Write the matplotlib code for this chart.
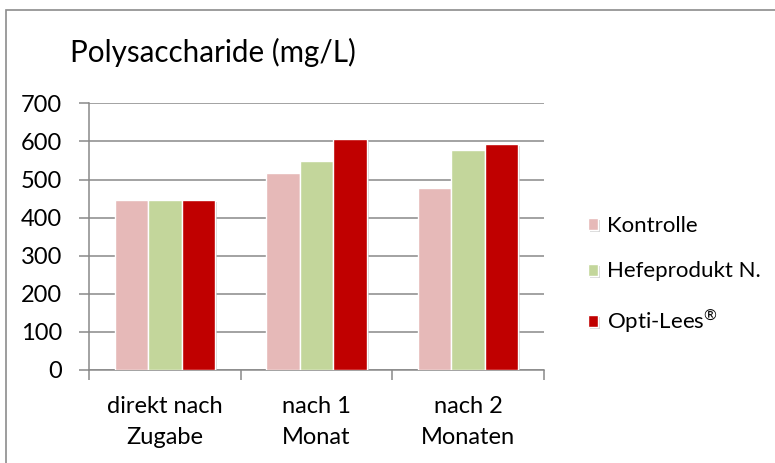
import matplotlib.pyplot as plt
import matplotlib.patheffects as pe
from matplotlib.patches import Rectangle
import numpy as np

plt.rcParams['font.family'] = ['Lato', 'DejaVu Sans']
plt.rcParams['mathtext.fontset'] = 'custom'
plt.rcParams['mathtext.rm'] = 'Lato'

categories = ['direkt nach\nZugabe', 'nach 1\nMonat', 'nach 2\nMonaten']
series_names = ['Kontrolle', 'Hefeprodukt N.', r'Opti-Lees$^{\mathrm{®}}$']
kontrolle = [447, 518, 478]
hefeprodukt = [447, 549, 577]
optilees = [447, 607, 593]
colors = ['#E6B9B8', '#C3D69B', '#C00000']
yticks = [0, 100, 200, 300, 400, 500, 600, 700]

W, H = 775, 463
fig = plt.figure(figsize=(W / 100, H / 100), dpi=100)
ax = fig.add_axes([89 / W, 1 - 370 / H, (544 - 89) / W, (370 - 103.3) / H])

grid_col = '#898989'
x = np.arange(len(categories))
bw = 0.22
shadow = [pe.SimplePatchShadow(offset=(1.5, -1.5), shadow_rgbFace='#bbbbbb', alpha=0.6), pe.Normal()]
for i, (vals, name) in enumerate(zip([kontrolle, hefeprodukt, optilees], series_names)):
    bars = ax.bar(x + (i - 1) * bw, vals, bw, color=colors[i], edgecolor='white',
                  linewidth=1.0, label=name, zorder=3)
    for b in bars:
        b.set_path_effects(shadow)

ax.set_xlim(-0.5, 2.5)
ax.set_ylim(0, 700)
ax.set_yticks(yticks)
ax.yaxis.grid(True, color=grid_col, linewidth=1.1, zorder=0)
ax.set_axisbelow(True)

ax.set_xticks(x)
ax.set_xticklabels(categories, fontsize=17, linespacing=1.55)
ax.set_xticks([-0.5, 0.5, 1.5, 2.5], minor=True)
ax.tick_params(axis='x', which='major', length=0, pad=19)
ax.tick_params(axis='x', which='minor', length=7, color=grid_col, width=1.1)
ax.tick_params(axis='y', length=7, color=grid_col, width=1.1, labelsize=17, pad=12.5)

for s in ['top', 'right']:
    ax.spines[s].set_visible(False)
for s in ['left', 'bottom']:
    ax.spines[s].set_color(grid_col)
    ax.spines[s].set_linewidth(1.1)

fig.text(70 / W, 1 - 62 / H, 'Polysaccharide (mg/L)', fontsize=21.3, ha='left', va='baseline')

leg = fig.legend(loc='upper left', bbox_to_anchor=(579 / W, 1 - 207 / H), frameon=False,
                 fontsize=16, handlelength=0.45, handleheight=0.45, labelspacing=1.15,
                 handletextpad=0.4, borderaxespad=0)

fig.add_artist(Rectangle((5.5 / W, -0.1), 1.2, 1.1 - 10.5 / H, transform=fig.transFigure,
                         fill=False, edgecolor='#8c8c8c', linewidth=1.2))

fig.savefig('out.png', dpi=100)
